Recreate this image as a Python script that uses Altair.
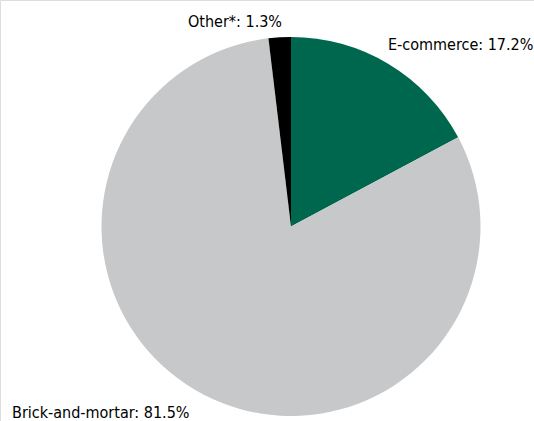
import altair as alt
import pandas as pd

categories = ["E-commerce", "Brick-and-mortar", "Other*"]
label_values = ["17.2%", "81.5%", "1.3%"]
# slice sizes as drawn in the picture
slice_sizes = [17.2, 80.9, 1.9]
colors = ["#00674F", "#C7C8CA", "#000000"]
order = [0, 1, 2]

df = pd.DataFrame({
    "category": categories,
    "size": slice_sizes,
    "label": [f"{c}: {v}" for c, v in zip(categories, label_values)],
    "order": order,
})

FONT = "DejaVu Sans Condensed"

pie = alt.Chart(df).mark_arc(radius=189.5, stroke=None).encode(
    theta=alt.Theta("size:Q", stack=True),
    order=alt.Order("order:Q"),
    color=alt.Color("category:N", scale=alt.Scale(domain=categories, range=colors), legend=None),
    x=alt.value(291),
    y=alt.value(226.5),
)

def label(i, x, y):
    return alt.Chart(df).transform_filter(
        alt.datum.category == categories[i]
    ).mark_text(
        font=FONT, fontSize=16, align="left", baseline="alphabetic", color="#000000"
    ).encode(text="label:N", x=alt.value(x), y=alt.value(y))

chart = alt.layer(
    pie,
    label(0, 388, 50),
    label(1, 12, 418),
    label(2, 188, 27),
).properties(
    width=534, height=421, padding=0,
    autosize=alt.AutoSizeParams(type="none"),
).configure_view(stroke=None).configure(background="#FFFFFF")

chart.save("out.html", embed_options={"renderer": "svg", "actions": False})
